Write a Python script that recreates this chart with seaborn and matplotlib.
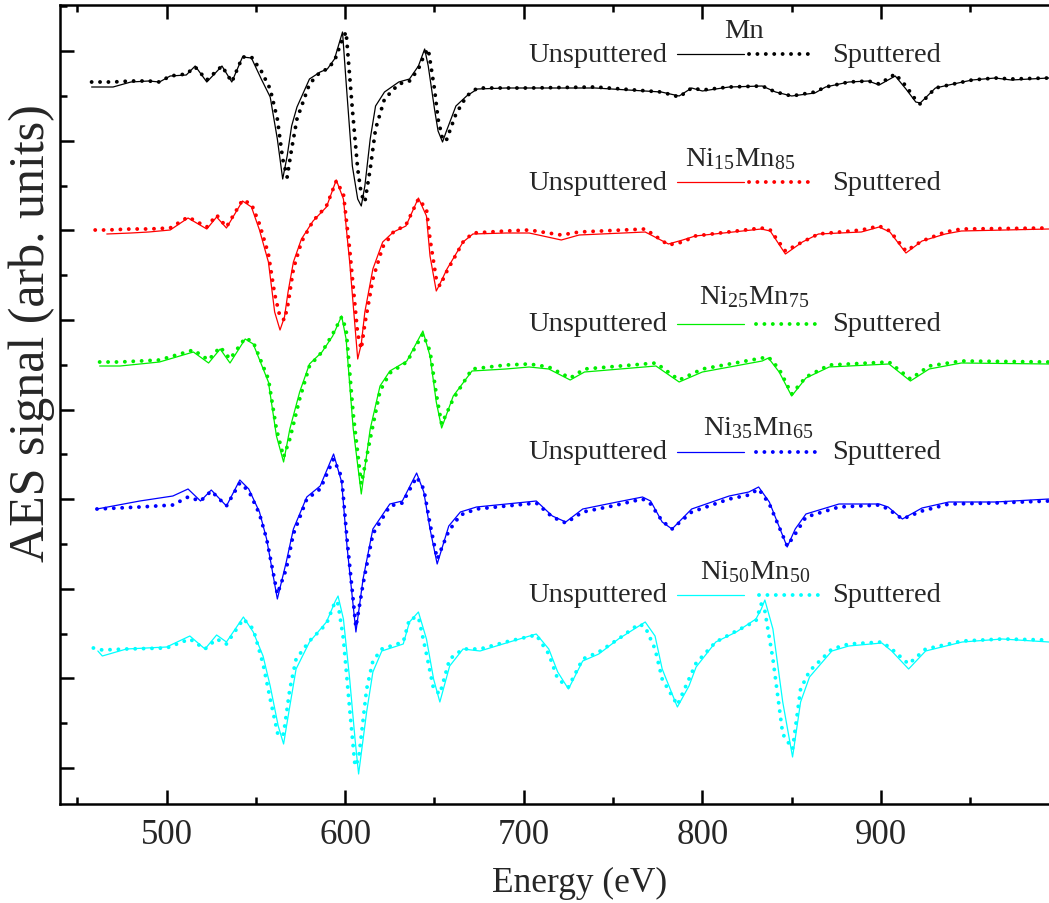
import numpy as np
import pandas as pd
import matplotlib
matplotlib.use("Agg")
import matplotlib.pyplot as plt
from matplotlib.ticker import MultipleLocator, FixedLocator
import seaborn as sns

nan = np.nan

# ---------------- data (arb. units, relative to each spectrum's offset) ----------------
MN_E = [458, 470, 480, 490, 496, 502, 511, 516, 522.5, 531, 536.5, 542.5, 547.5, 553, 558,
        562, 565, 567.5, 570, 573, 580, 586, 590, 594, 598.5, 600.5, 604, 607, 609, 611,
        614, 617, 622, 630, 636, 641, 644.5, 646.5, 650, 652, 654.5, 656.5, 662, 668, 674,
        690, 703, 740, 777, 787, 794, 800, 815, 833.5, 841, 850, 863, 869, 882, 893,
        899, 908, 914, 919.5, 922, 930.5, 938, 951, 964, 973, 994]
MN_UNSP = [-3, -3, 2, 3, 2, 8, 9, 18, 2, 18, 2, 27, 26, 5, -13,
           -55, -95, -72, -42, -23, 5, 12, 15, 25, 52, 2, -82, -115, -122, -102,
           -55, -22, -8, 2, 5, 18, 35, 18, -25, -47, -58, -48, -22, -12, -5,
           -4, -4, -4, -8, -12, -4, -7, -3, -2, -8, -12, -9, -3, 2, 3,
           -1, 8, -5, -18, -19, -4, -1, 4, 6, 4, 6]
MN_SPUT = [2, 2, 3, 3, 2, 8, 10, 17, 4, 18, 2, 27, 27, 13, -5,
           -35, -75, -93, -65, -35, 0, 12, 15, 23, 45, 52, -25, -85, -110, -118,
           -85, -45, -15, 0, 3, 15, 30, 35, -5, -35, -55, -57, -30, -12, -4,
           -4, -4, -3, -8, -13, -4, -6, -3, -2, -8, -12, -8, -3, 2, 3,
           0, 10, -2, -16, -20, -4, -1, 4, 6, 5, 6]

RED_E = [460, 466.5, 480, 490, 502, 512, 522.5, 528, 533.5, 542.5, 547.5, 552, 557, 560.5, 563.5,
         566, 568, 571, 575.5, 582, 589.5, 595, 599, 602.5, 607, 609, 611, 615.5, 621, 627,
         634, 641, 645.5, 647.5, 651, 653, 657, 666, 671.5, 690, 703, 721, 731, 768, 781,
         789, 796, 833, 838, 846.5, 856, 865, 889, 899, 905, 914, 923, 936, 945, 994]
RED_UNSP = [nan, -3, -2, -1, 1, 13, 2, 14, 3, 30, 24, 1, -31, -81, -99,
            -86, -61, -31, -8, 10, 24, 51, 32, -31, -128, -113, -81, -38, -11, -1,
            5, 33, 15, -25, -60, -53, -38, -11, -3, -2, -2, -9, -4, -1, -13,
            -9, -5, 2, 0, -23, -11, -3, -1, 4, -1, -22, -10, -3, 0, 2]
RED_SPUT = [1, 1, 2, 2, 3, 14, 4, 16, 4, 31, 27, 7, -23, -63, -86,
            -89, -73, -38, -11, 10, 25, 50, 37, -18, -103, -118, -93, -48, -16, -1,
            6, 32, 22, -8, -48, -55, -40, -11, -2, 0, 1, -4, -1, 2, -14,
            -11, -5, 3, 1, -20, -11, -3, 1, 5, 0, -20, -10, -1, 2, 3]

GRN_E = [462.5, 474, 496, 515, 523.5, 530, 535.5, 544, 548.5, 557, 561.5, 565.5, 569, 574.5, 580,
         587, 593, 598, 600.5, 604.5, 609, 614, 619.5, 625, 634.5, 643.5, 647.5, 651, 654, 660.5,
         671, 690, 703, 714, 726, 734, 774, 787, 800, 833.5, 837, 843, 850, 858, 871,
         904.5, 916.5, 927, 945, 994]
GRN_UNSP = [-1, -1, 3, 13, 2, 16, 2, 26, 21, -17, -71, -97, -64, -27, 1,
            13, 29, 49, 26, -64, -129, -64, -21, -6, 4, 34, 9, -37, -63, -31,
            -6, -4, -2, -4, -15, -7, -1, -17, -7, 4, 7, -7, -31, -13, -2,
            1, -16, -4, 2, 1]
GRN_SPUT = [3, 3, 5, 15, 5, 18, 6, 27, 23, -14, -64, -92, -74, -34, -1,
            13, 31, 48, 36, -49, -119, -74, -26, -8, 3, 31, 14, -29, -59, -34,
            -4, 0, 1, -2, -13, -4, 2, -15, -4, 7, 8, -4, -29, -12, 0,
            3, -14, -1, 4, 3]

BLU_E = [461, 485, 503.5, 512, 519, 525, 533.5, 541, 546, 552, 556, 562, 567, 571, 578.5,
         586, 593.5, 598, 601, 606, 610, 615.5, 625, 632, 640, 644, 647.5, 651.5, 658, 664.5,
         673.5, 701.5, 707, 716, 723.5, 733, 749.5, 766.5, 771, 777.5, 783, 794, 815, 826, 831.5,
         837.5, 847.5, 852, 858, 876.5, 899, 904, 912, 923, 938, 964, 994]
BLU_UNSP = [-7, 1, 6, 13, 1, 12, -4, 22, 13, -10, -37, -97, -60, -27, 5,
            16, 48, 20, -44, -130, -77, -27, -2, 1, 29, 10, -27, -62, -24, -10,
            -5, 0, 1, -14, -20, -7, -1, 5, 1, -20, -27, -7, 6, 10, 15,
            0, -45, -27, -12, -2, -2, -5, -17, -6, 0, 0, 3]
BLU_SPUT = [-7, -5, -3, 5, 1, 11, -4, 19, 11, -12, -37, -92, -67, -32, 3,
            13, 43, 25, -37, -125, -82, -32, -4, -1, 25, 13, -22, -57, -29, -13,
            -7, -2, -1, -15, -21, -10, -4, 3, -2, -19, -27, -10, 3, 7, 13,
            -2, -44, -32, -15, -5, -3, -7, -17, -9, -2, -1, 1]

CYN_E = [459, 461.5, 464, 477.5, 500, 513, 521.5, 528, 533.5, 543, 548.5, 554, 558, 562.5, 565.5,
         569, 572.5, 580, 589.5, 594.5, 596, 599, 602.5, 605.5, 607.5, 612, 615.5, 620.5, 632.5, 636,
         641, 645.5, 649.5, 653, 658.5, 666, 675.5, 692, 707, 714, 719, 725, 733, 742, 753,
         764.5, 768, 773.5, 777.5, 786, 792.5, 796.5, 807.5, 819, 830, 833, 835, 839.5, 845, 850.5,
         855, 860, 872.5, 882, 900.5, 906, 915.5, 925, 945.5, 968, 994]
CYN_UNSP = [nan, -4, -9, -2, 0, 11, -2, 12, 5, 30, 15, -9, -39, -79, -97,
            -59, -22, 5, 25, 46, 51, 28, -32, -92, -127, -65, -25, -4, 3, 25,
            35, 8, -32, -55, -19, -2, -4, 5, 13, -2, -25, -42, -14, -7, 8,
            21, 25, 11, -22, -60, -39, -20, 5, 15, 28, 38, 47, 18, -55, -110,
            -55, -30, -4, 1, 4, -4, -22, -4, 5, 8, 5]
CYN_SPUT = [-1, -2, -3, -2, -1, 8, -2, 8, 3, 28, 18, -17, -52, -89, -87,
            -42, -12, 6, 23, 46, 43, 8, -62, -119, -112, -42, -14, -2, 5, 28,
            30, -7, -42, -47, -12, -2, -2, 6, 12, -7, -32, -40, -12, -5, 8,
            23, 20, -2, -32, -58, -32, -16, 5, 16, 26, 43, 36, -12, -87, -102,
            -42, -24, -2, 3, 5, -2, -17, -2, 6, 8, 7]

SAMPLES = ["Mn", r"Ni$_{15}$Mn$_{85}$", r"Ni$_{25}$Mn$_{75}$", r"Ni$_{35}$Mn$_{65}$", r"Ni$_{50}$Mn$_{50}$"]
OFFSETS = [720, 573, 439, 302, 157]
COLORS = ["#000000", "#ff0000", "#00ee00", "#0000ff", "#00ffff"]
SERIES = [(MN_E, MN_UNSP, MN_SPUT), (RED_E, RED_UNSP, RED_SPUT), (GRN_E, GRN_UNSP, GRN_SPUT),
          (BLU_E, BLU_UNSP, BLU_SPUT), (CYN_E, CYN_UNSP, CYN_SPUT)]
X_TICKS = [500, 600, 700, 800, 900]

# ---------------- style ----------------
sns.set_style("ticks")
plt.rcParams["font.family"] = ["Liberation Serif", "DejaVu Serif"]
plt.rcParams["mathtext.fontset"] = "custom"
plt.rcParams["mathtext.rm"] = "Liberation Serif"
plt.rcParams["mathtext.it"] = "Liberation Serif:italic"

fig = plt.figure(figsize=(10.49, 9.04), dpi=100)
ax = fig.add_axes([60 / 1049, 1 - 805 / 904, 989 / 1049, 799 / 904])

DOT = (0, (0.01, 2.15))
for name, off, col, (E, un, sp) in zip(SAMPLES, OFFSETS, COLORS, SERIES):
    df = pd.DataFrame({"Energy": E, "Unsputtered": np.array(un, float) + off,
                       "Sputtered": np.array(sp, float) + off})
    d1 = df.dropna(subset=["Unsputtered"])
    sns.lineplot(data=d1, x="Energy", y="Unsputtered", color=col, lw=0.9,
                 estimator=None, sort=False, ax=ax)
    sns.lineplot(data=df, x="Energy", y="Sputtered", color=col, lw=2.8,
                 linestyle=DOT, dash_capstyle="round", estimator=None, sort=False, ax=ax)

# ---------------- legend-like annotations (axes-fraction positions) ----------------
def fx(px):
    return (px - 60) / 989

def fy(py):
    return (805 - py) / 799

legend_rows = [  # row y, title y, title x, dotted start, dotted end
    (55, 31, 744, 749, 816),
    (183, 159, 740, 749, 816),
    (325, 297, 754, 756, 822),
    (453, 428, 758, 756, 822),
    (596, 572, 755, 759, 822),
]
for (ry, ty, tx, d0, d1_), name, col in zip(legend_rows, SAMPLES, COLORS):
    ax.text(fx(667), fy(ry), "Unsputtered", transform=ax.transAxes, ha="right",
            va="center", fontsize=20.5)
    ax.text(fx(832), fy(ry), "Sputtered", transform=ax.transAxes, ha="left",
            va="center", fontsize=20.5)
    ax.text(fx(tx), fy(ty), name, transform=ax.transAxes, ha="center",
            va="center", fontsize=20.5)
    ax.plot([fx(677), fx(744)], [fy(ry), fy(ry)], transform=ax.transAxes,
            color=col, lw=0.9)
    ax.plot([fx(d0), fx(d1_)], [fy(ry), fy(ry)], transform=ax.transAxes,
            color=col, lw=2.8, linestyle=DOT, dash_capstyle="round")

# ---------------- axes ----------------
ax.set_xlim(440.3, 994.1)
ax.set_ylim(0, 799)
ax.xaxis.set_major_locator(FixedLocator(X_TICKS + [1000]))
ax.xaxis.set_minor_locator(MultipleLocator(50))
ax.yaxis.set_major_locator(FixedLocator(36 + 89.6 * np.arange(9)))
ax.yaxis.set_minor_locator(FixedLocator(36 + 44.8 + 89.6 * np.arange(9)))
ax.set_yticklabels([])
ax.tick_params(axis="both", which="both", direction="in", top=True, right=False,
               width=1.8, color="black")
ax.tick_params(axis="both", which="major", length=10)
ax.tick_params(axis="both", which="minor", length=5)
ax.tick_params(axis="x", which="major", labelsize=25, pad=10)
for s in ["left", "bottom", "top"]:
    ax.spines[s].set_linewidth(1.8)
    ax.spines[s].set_color("black")
ax.spines["right"].set_visible(False)

ax.set_xlabel("Energy (eV)", fontsize=25.5)
ax.xaxis.set_label_coords(fx(580), -0.078)
ax.set_ylabel("AES signal (arb. units)", fontsize=36)
ax.yaxis.set_label_coords(-0.005, fy(333))

fig.savefig("out.png", dpi=100)
